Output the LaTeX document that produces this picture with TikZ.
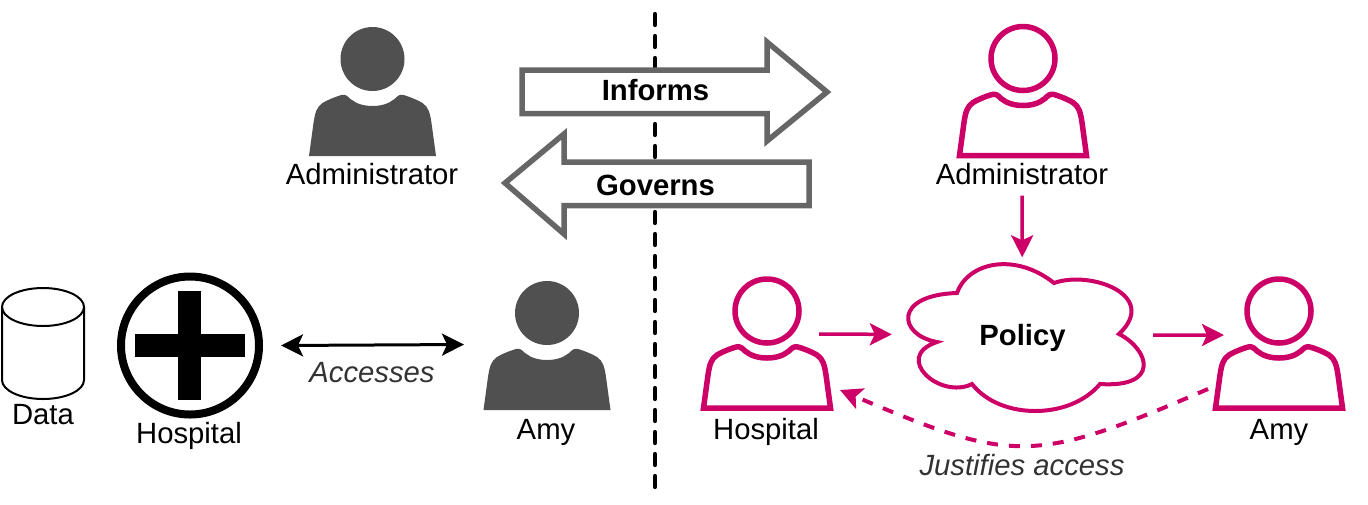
\documentclass[tikz,border=0pt]{standalone}
\RequirePackage{fontspec}
\RequirePackage{tikz}
\RequirePackage{tkz-euclide}
\usetikzlibrary{calc}
\usetikzlibrary{arrows.meta}
\setmainfont{Liberation Sans}
\definecolor{policyred}{HTML}{CC0066}
\definecolor{icongrey}{HTML}{505050}
\definecolor{blockgrey}{HTML}{666666}
\definecolor{notegrey}{HTML}{333333}
\tikzset{
    person/.pic={
        \path[pic actions] (-0.635,0) -- (-0.59,0.33)
            .. controls (-0.575,0.43) and (-0.56,0.49) .. (-0.50,0.53)
            .. controls (-0.47,0.55) and (-0.38,0.59) .. (-0.31,0.61)
            .. controls (-0.27,0.62) and (-0.25,0.60) .. (-0.22,0.57)
            .. controls (-0.16,0.52) and (-0.08,0.50) .. (0,0.50)
            .. controls (0.08,0.50) and (0.16,0.52) .. (0.22,0.57)
            .. controls (0.25,0.60) and (0.27,0.62) .. (0.31,0.61)
            .. controls (0.38,0.59) and (0.47,0.55) .. (0.50,0.53)
            .. controls (0.56,0.49) and (0.575,0.43) .. (0.59,0.33)
            -- (0.635,0) -- cycle;
        \path[pic actions] (0,0.97) circle (0.32);
        \coordinate (-w) at (-0.55,0.73);
        \coordinate (-e) at (0.52,0.74);
        \coordinate (-s) at (-0.01,-0.40);
        \coordinate (-sw) at (-0.71,0.19);
        \coordinate (-se) at (0.73,0.18);
    },
    solidperson/.style={fill=icongrey},
    lineperson/.style={draw=policyred,line width=0.055cm,fill=white},
    label/.style={font=\fontsize{8.33}{10}\selectfont,inner sep=0pt},
    boldlabel/.style={font=\fontsize{8.33}{10}\selectfont\bfseries,inner sep=0pt},
    note/.style={font=\fontsize{8.33}{10}\selectfont\itshape,text=notegrey,inner sep=0pt},
    blockarrow/.style={draw=blockgrey,line width=0.055cm,fill=white,miter limit=10},
    divider/.style={line width=0.042cm,dash pattern=on 0.11cm off 0.11cm},
    flow/.style={draw=policyred,line width=0.035cm,-{Stealth[length=0.22cm,width=0.22cm,inset=0.05cm]}},
    back/.style={draw=policyred,line width=0.04cm,dash pattern=on 0.11cm off 0.11cm,-{Stealth[length=0.22cm,width=0.22cm,inset=0.05cm]}},
    both/.style={line width=0.03cm,{Stealth[length=0.22cm,width=0.22cm,inset=0.05cm]}-{Stealth[length=0.22cm,width=0.22cm,inset=0.05cm]}}
}
\begin{document}
\begin{tikzpicture}
                    \useasboundingbox (0,0) rectangle (13.68,5.04);

                    \tkzDefPoint(6.55,4.90){T}
                    \tkzDefPoint(6.55,0.16){U}
                    \tkzDrawSegment[divider](T,U)

                    \draw[blockarrow] (5.22,4.34) -- (7.67,4.34) -- (7.67,4.62) -- (8.27,4.12)
                        -- (7.67,3.63) -- (7.67,3.905) -- (5.22,3.905) -- cycle;
                    \draw[blockarrow] (8.09,3.42) -- (5.64,3.42) -- (5.64,3.70) -- (5.05,3.21)
                        -- (5.64,2.70) -- (5.64,2.985) -- (8.09,2.985) -- cycle;
                    \node[boldlabel] (informs) at (6.555,4.14) {Informs};
                    \node[boldlabel] (governs) at (6.555,3.19) {Governs};

                    \pic[solidperson] (adminL) at (3.725,3.48) {person};
                    \pic[lineperson] (adminR) at (10.23,3.485) {person};
                    \pic[solidperson] (amyL) at (5.47,0.94) {person};
                    \pic[lineperson] (hospR) at (7.67,0.96) {person};
                    \pic[lineperson] (amyR) at (12.79,0.96) {person};

                    \node[label] (adminLtext) at (3.72,3.30) {Administrator};
                    \node[label] (adminRtext) at (10.22,3.30) {Administrator};
                    \node[label] (amyLtext) at (5.46,0.72) {Amy};
                    \node[label] (hospRtext) at (7.66,0.72) {Hospital};
                    \node[label] (amyRtext) at (12.79,0.72) {Amy};

                    \draw[line width=0.02cm,fill=white] (0.02,1.24)
                        -- (0.02,1.97) arc[start angle=180,end angle=0,x radius=0.41,y radius=0.19]
                        -- (0.84,1.24) arc[start angle=0,end angle=-180,x radius=0.41,y radius=0.19];
                    \draw[line width=0.02cm] (0.02,1.97) arc[start angle=180,end angle=360,x radius=0.41,y radius=0.19];
                    \node[label] (data) at (0.43,0.89) {Data};

                    \node[circle,draw,line width=0.08cm,minimum size=1.38cm,inner sep=0pt,outer sep=0pt] (hospL) at (1.90,1.585) {};
                    \fill (1.78,1.04) rectangle (2.01,2.13);
                    \fill (1.345,1.47) rectangle (2.445,1.70);
                    \node[label] (hospLtext) at (1.89,0.68) {Hospital};

                    \tkzDefPoint(2.81,1.585){P}
                    \tkzDefPoint(4.64,1.595){Q}
                    \tkzDrawSegment[both](P,Q)
                    \node[note] (accesses) at (3.72,1.31) {Accesses};

                    \draw[draw=policyred,line width=0.04cm,fill=white] (9.57,2.11)
                        .. controls (9.68,2.42) and (10.15,2.52) .. (10.54,2.21)
                        .. controls (10.90,2.34) and (11.60,2.09) .. (11.19,1.70)
                        .. controls (11.50,1.54) and (11.60,1.16) .. (11.00,1.20)
                        .. controls (10.70,0.84) and (10.00,0.84) .. (9.72,1.20)
                        .. controls (9.40,1.04) and (8.92,1.47) .. (9.37,1.62)
                        .. controls (8.98,1.69) and (8.93,2.09) .. (9.57,2.11) -- cycle;
                    \node[boldlabel,minimum width=2.6cm,minimum height=1.54cm,text height=0.26cm,text depth=0.06cm] (policy) at (10.225,1.69) {Policy};

                    \draw[flow] (adminR-s) -- (policy);
                    \draw[flow] (hospR-e) -- (policy);
                    \draw[flow] (policy) -- (amyR-w);
                    \draw[back] (amyR-sw) .. controls (10.34,0.40) and (10.14,0.40) .. (hospR-se);
                    \node[note] (justifies) at (10.22,0.39) {Justifies access};
                \end{tikzpicture}
\end{document}
